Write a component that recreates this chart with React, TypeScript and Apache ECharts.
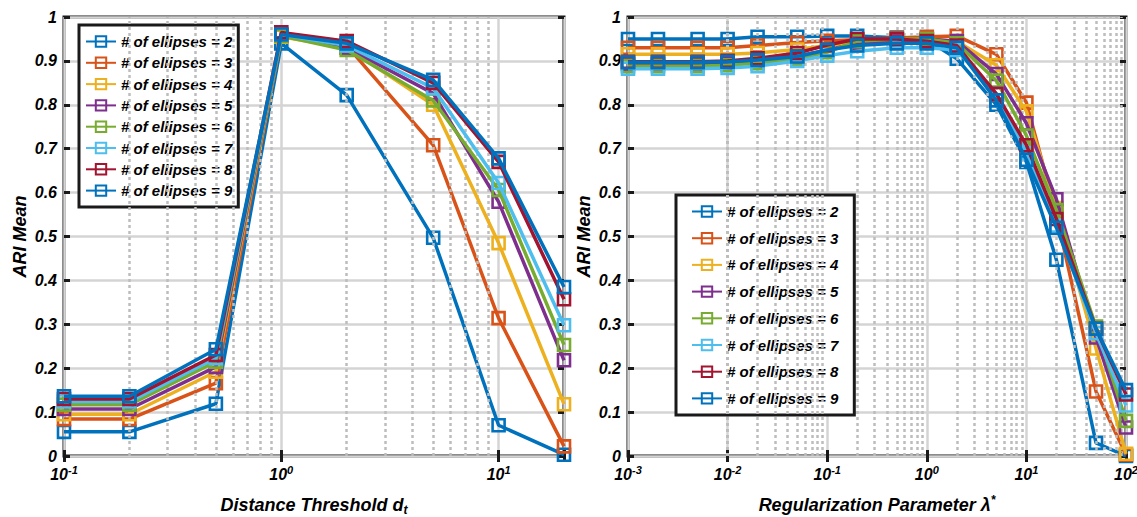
import React, { useEffect, useRef } from "react";
import * as echarts from "echarts";

const NAMES = [
  "# of ellipses = 2",
  "# of ellipses = 3",
  "# of ellipses = 4",
  "# of ellipses = 5",
  "# of ellipses = 6",
  "# of ellipses = 7",
  "# of ellipses = 8",
  "# of ellipses = 9",
];
const COLORS = ["#0072BD", "#D95319", "#EDB120", "#7E2F8E", "#77AC30", "#4DBEEE", "#A2142F", "#0072BD"];

const leftX = [0.1, 0.2, 0.5, 1, 2, 5, 10, 20];
const leftE2 = [0.055, 0.055, 0.119, 0.94, 0.822, 0.497, 0.07, 0.003];
const leftE3 = [0.084, 0.084, 0.166, 0.955, 0.935, 0.708, 0.314, 0.022];
const leftE4 = [0.095, 0.095, 0.192, 0.955, 0.93, 0.8, 0.485, 0.118];
const leftE5 = [0.107, 0.107, 0.203, 0.958, 0.93, 0.826, 0.579, 0.218];
const leftE6 = [0.117, 0.117, 0.215, 0.957, 0.925, 0.81, 0.606, 0.253];
const leftE7 = [0.124, 0.124, 0.223, 0.96, 0.935, 0.838, 0.622, 0.298];
const leftE8 = [0.13, 0.13, 0.23, 0.965, 0.945, 0.85, 0.67, 0.357];
const leftE9 = [0.136, 0.136, 0.243, 0.96, 0.94, 0.857, 0.678, 0.385];
const leftSeries = [leftE2, leftE3, leftE4, leftE5, leftE6, leftE7, leftE8, leftE9];

const rightX = [0.001, 0.002, 0.005, 0.01, 0.02, 0.05, 0.1, 0.2, 0.5, 1, 2, 5, 10, 20, 50, 100];
const rightE2 = [0.95, 0.95, 0.95, 0.95, 0.955, 0.955, 0.957, 0.957, 0.953, 0.948, 0.905, 0.8, 0.67, 0.447, 0.03, 0.0];
const rightE3 = [0.93, 0.93, 0.93, 0.93, 0.935, 0.942, 0.946, 0.948, 0.952, 0.955, 0.957, 0.915, 0.805, 0.55, 0.147, 0.003];
const rightE4 = [0.915, 0.915, 0.915, 0.915, 0.918, 0.926, 0.935, 0.942, 0.947, 0.95, 0.945, 0.89, 0.785, 0.565, 0.245, 0.005];
const rightE5 = [0.893, 0.893, 0.893, 0.895, 0.9, 0.91, 0.925, 0.94, 0.945, 0.95, 0.945, 0.87, 0.758, 0.585, 0.27, 0.065];
const rightE6 = [0.888, 0.888, 0.888, 0.89, 0.895, 0.905, 0.92, 0.945, 0.95, 0.95, 0.94, 0.855, 0.73, 0.56, 0.295, 0.08];
const rightE7 = [0.882, 0.882, 0.882, 0.884, 0.888, 0.9, 0.912, 0.922, 0.93, 0.93, 0.925, 0.825, 0.69, 0.525, 0.28, 0.115];
const rightE8 = [0.898, 0.898, 0.898, 0.9, 0.906, 0.918, 0.936, 0.95, 0.95, 0.945, 0.935, 0.825, 0.708, 0.54, 0.29, 0.14];
const rightE9 = [0.897, 0.897, 0.897, 0.898, 0.902, 0.91, 0.925, 0.935, 0.94, 0.94, 0.93, 0.81, 0.675, 0.52, 0.29, 0.15];
const rightSeries = [rightE2, rightE3, rightE4, rightE5, rightE6, rightE7, rightE8, rightE9];

const yTicks = [0, 0.1, 0.2, 0.3, 0.4, 0.5, 0.6, 0.7, 0.8, 0.9, 1];
const leftDecades = [0.1, 1, 10];
const rightDecades = [0.001, 0.01, 0.1, 1, 10];

const FONT = "'Liberation Sans', Arial, Helvetica, sans-serif";

function minorValues(decades: number[], max: number) {
  const out: number[] = [];
  decades.forEach((d) => {
    for (let m = 2; m <= 9; m++) {
      const v = +(m * d).toPrecision(6);
      if (v < max) out.push(v);
    }
  });
  return out;
}

const baseText = { fontFamily: FONT, fontWeight: "bold" as const, fontStyle: "italic" as const, color: "#000" };

function logLabel(v: number) {
  const l = Math.log10(v);
  const e = Math.round(l);
  if (Math.abs(l - e) > 1e-6) return "";
  return `{b|10}{s|${e}}`;
}

const labelRich = {
  b: { ...baseText, fontSize: 16 },
  s: { ...baseText, fontSize: 11, padding: [0, 0, 9, 0] },
};

export default function App() {
  const ref = useRef<HTMLDivElement>(null);
  useEffect(() => {
    if (!ref.current) return;
    const chart = echarts.init(ref.current, undefined, { renderer: "svg" });

    const grids = [
      { left: 64, top: 17, width: 500, height: 439, show: true, borderColor: "#1a1a1a", borderWidth: 3, backgroundColor: "#fff", outerBoundsMode: "none", containLabel: false },
      { left: 628, top: 17, width: 498, height: 439, show: true, borderColor: "#1a1a1a", borderWidth: 3, backgroundColor: "#fff", outerBoundsMode: "none", containLabel: false },
    ];

    const xBottom = (gridIndex: number, min: number, max: number, name: string, rich: any) => ({
      type: "log",
      logBase: 10,
      gridIndex,
      min,
      max,
      interval: 1,
      position: "bottom",
      name,
      nameLocation: "middle",
      nameGap: 38,
      nameTextStyle: { rich },
      axisLine: { show: false },
      axisTick: { show: true, inside: true, length: 6, lineStyle: { color: "#1a1a1a", width: 3 } },
      axisLabel: { formatter: logLabel, rich: labelRich, margin: 8 },
      splitLine: { show: true, lineStyle: { color: "#d4d4d4", width: 2.5 } },
      minorTick: { show: false },
    });
    const xTop = (gridIndex: number, min: number, max: number) => ({
      type: "log",
      logBase: 10,
      gridIndex,
      min,
      max,
      interval: 1,
      position: "top",
      axisLine: { show: false },
      axisTick: { show: true, inside: true, length: 6, lineStyle: { color: "#1a1a1a", width: 3 } },
      axisLabel: { show: false },
      splitLine: { show: false },
    });
    const yLeft = (gridIndex: number) => ({
      type: "value",
      gridIndex,
      min: 0,
      max: 1,
      interval: 0.1,
      position: "left",
      name: "ARI Mean",
      nameLocation: "middle",
      nameGap: 35,
      nameTextStyle: { ...baseText, fontSize: 18 },
      axisLine: { show: false },
      axisTick: { show: true, inside: true, length: 6, lineStyle: { color: "#1a1a1a", width: 3 } },
      axisLabel: {
        ...baseText,
        fontSize: 16,
        margin: 7,
        formatter: (v: number) => {
          const t = yTicks.find((k) => Math.abs(k - v) < 1e-9);
          return t === undefined ? "" : String(+t.toFixed(1));
        },
      },
      splitLine: { show: true, lineStyle: { color: "#d4d4d4", width: 2.5 } },
    });
    const yRight = (gridIndex: number) => ({
      type: "value",
      gridIndex,
      min: 0,
      max: 1,
      interval: 0.1,
      position: "right",
      axisLine: { show: false },
      axisTick: { show: true, inside: true, length: 6, lineStyle: { color: "#1a1a1a", width: 3 } },
      axisLabel: { show: false },
      splitLine: { show: false },
    });

    const minorSeries = (xi: number, yi: number, vals: number[]) => ({
      type: "line",
      name: "minor" + xi,
      xAxisIndex: xi,
      yAxisIndex: yi,
      data: [],
      z: 1,
      silent: true,
      markLine: {
        silent: true,
        symbol: ["none", "none"],
        label: { show: false },
        lineStyle: { type: [3, 3], color: "#bdbdbd", width: 2.5 },
        data: vals.map((v) => ({ xAxis: v })),
        animation: false,
      },
    });

    const dataSeries = (xi: number, yi: number, xs: number[], sets: number[][]) =>
      sets.map((vals, i) => ({
        type: "line",
        name: NAMES[i],
        xAxisIndex: xi,
        yAxisIndex: yi,
        data: xs.map((x, j) => [x, vals[j]]),
        symbol: "rect",
        symbolSize: 12,
        showAllSymbol: true,
        color: COLORS[i],
        lineStyle: { color: COLORS[i], width: 3.5 },
        itemStyle: { color: "rgba(255,255,255,0)", borderColor: COLORS[i], borderWidth: 2.6 },
        emphasis: { disabled: true },
        z: 3 + i,
      }));

    const legendText = { ...baseText, fontSize: 15 };

    const option: any = {
      animation: false,
      backgroundColor: "#fff",
      grid: grids,
      xAxis: [
        xBottom(0, 0.1, 20, "{n|Distance Threshold d}{sub|t}", {
          n: { ...baseText, fontSize: 18 },
          sub: { ...baseText, fontSize: 12, padding: [10, 0, 0, 0] },
        }),
        xTop(0, 0.1, 20),
        xBottom(1, 0.001, 100, "{n|Regularization Parameter λ}{sup|*}", {
          n: { ...baseText, fontSize: 18 },
          sup: { ...baseText, fontSize: 12, padding: [0, 0, 10, 0] },
        }),
        xTop(1, 0.001, 100),
      ],
      yAxis: [yLeft(0), yRight(0), yLeft(1), yRight(1)],
      legend: [
        {
          data: NAMES,
          orient: "vertical",
          left: 79,
          top: 25,
          padding: [9, 6, 9, 6],
          itemGap: 6.3,
          itemWidth: 30,
          itemHeight: 13,
          itemTextGap: 3,
          backgroundColor: "#fff",
          borderColor: "#1a1a1a",
          borderWidth: 3,
          borderRadius: 0,
          selectedMode: false,
          textStyle: legendText,
        },
        {
          data: NAMES,
          orient: "vertical",
          left: 676,
          top: 195,
          padding: [9, 16, 9, 15],
          itemGap: 11.7,
          itemWidth: 30,
          itemHeight: 13,
          itemTextGap: 3,
          backgroundColor: "#fff",
          borderColor: "#1a1a1a",
          borderWidth: 3,
          borderRadius: 0,
          selectedMode: false,
          textStyle: legendText,
        },
      ],
      series: [
        minorSeries(0, 0, minorValues(leftDecades, 20)),
        minorSeries(2, 2, minorValues(rightDecades, 100)),
        ...dataSeries(0, 0, leftX, leftSeries),
        ...dataSeries(2, 2, rightX, rightSeries),
      ],
    };
    chart.setOption(option);
    return () => chart.dispose();
  }, []);
  return <div ref={ref} style={{ position: "fixed", left: 0, top: 0, width: 1137, height: 517 }} />;
}
